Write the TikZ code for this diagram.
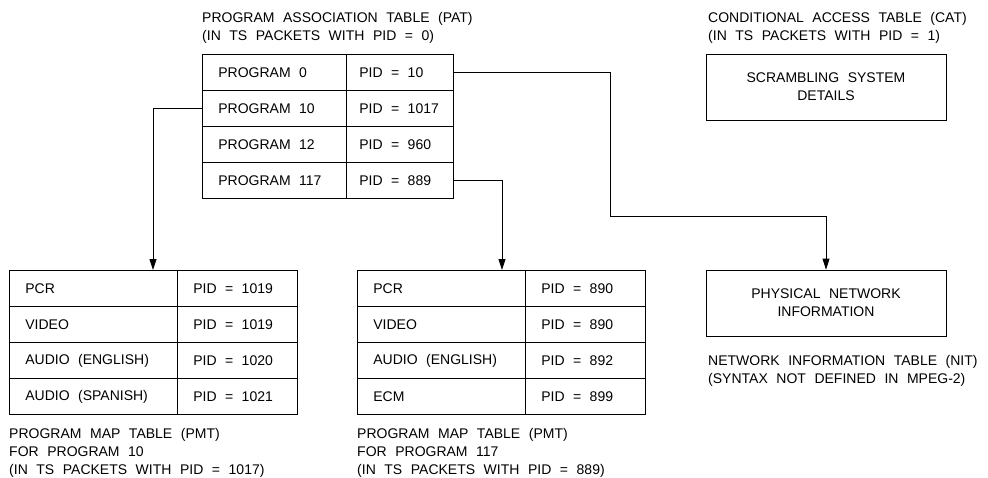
\documentclass[tikz,border=0pt]{standalone}
\usepackage{fontspec}
\setmainfont{Liberation Sans}[WordSpace=2.2]
\usetikzlibrary{arrows.meta}

\begin{document}
\begin{tikzpicture}[
  x=1pt, y=-1pt,
  font=\fontsize{14}{18}\selectfont,
  cell/.style={draw, line width=0.8pt, anchor=north west, minimum height=36pt,
               inner xsep=16pt, inner ysep=0pt, align=left, text width=#1,
               execute at begin node={\spaceskip=0.6em\relax}},
  pidcell/.style={cell=81pt, inner xsep=13pt},
  box/.style={draw, line width=0.8pt, minimum width=240pt, minimum height=66pt, align=center},
  capt/.style={anchor=base west, align=left, inner sep=0pt},
  arr/.style={line width=0.8pt, -{Triangle[length=11pt, width=7pt]}},
]
\useasboundingbox (0,0) rectangle (988,477);

% PAT
\node[capt] (pattitle) at (202,40) {PROGRAM ASSOCIATION TABLE (PAT)\\(IN TS PACKETS WITH PID = 0)};
\node[cell=112pt] (pat0l) at (202,54)  {PROGRAM 0};
\node[pidcell]    (pat0r) at (346,54)  {PID = 10};
\node[cell=112pt] (pat1l) at (202,90)  {PROGRAM 10};
\node[pidcell]    (pat1r) at (346,90)  {PID = 1017};
\node[cell=112pt] (pat2l) at (202,126) {PROGRAM 12};
\node[pidcell]    (pat2r) at (346,126) {PID = 960};
\node[cell=112pt] (pat3l) at (202,162) {PROGRAM 117};
\node[pidcell]    (pat3r) at (346,162) {PID = 889};

% CAT
\node[capt] (cattitle) at (708,40) {CONDITIONAL ACCESS TABLE (CAT)\\(IN TS PACKETS WITH PID = 1)};
\node[box] (cat) at (826,87) {SCRAMBLING SYSTEM\\DETAILS};

% PMT for program 10
\node[cell=136pt] (pa0l) at (9,270) {PCR};
\node[cell=88pt]  (pa0r) at (177,270) {PID = 1019};
\node[cell=136pt] (pa1l) at (9,306) {VIDEO};
\node[cell=88pt]  (pa1r) at (177,306) {PID = 1019};
\node[cell=136pt] (pa2l) at (9,342) {AUDIO (ENGLISH)};
\node[cell=88pt]  (pa2r) at (177,342) {PID = 1020};
\node[cell=136pt] (pa3l) at (9,378) {AUDIO (SPANISH)};
\node[cell=88pt]  (pa3r) at (177,378) {PID = 1021};
\node[capt] (pacapt) at (9,474) {PROGRAM MAP TABLE (PMT)\\FOR PROGRAM 10\\(IN TS PACKETS WITH PID = 1017)};

% PMT for program 117
\node[cell=136pt] (pb0l) at (357,270) {PCR};
\node[cell=88pt]  (pb0r) at (525,270) {PID = 890};
\node[cell=136pt] (pb1l) at (357,306) {VIDEO};
\node[cell=88pt]  (pb1r) at (525,306) {PID = 890};
\node[cell=136pt] (pb2l) at (357,342) {AUDIO (ENGLISH)};
\node[cell=88pt]  (pb2r) at (525,342) {PID = 892};
\node[cell=136pt] (pb3l) at (357,378) {ECM};
\node[cell=88pt]  (pb3r) at (525,378) {PID = 899};
\node[capt] (pbcapt) at (357,474) {PROGRAM MAP TABLE (PMT)\\FOR PROGRAM 117\\(IN TS PACKETS WITH PID = 889)};

% NIT
\node[box] (nit) at (826,303) {PHYSICAL NETWORK\\INFORMATION};
\node[capt] (nitcapt) at (708,383) {NETWORK INFORMATION TABLE (NIT)\\(SYNTAX NOT DEFINED IN MPEG-2)};

% connectors
\coordinate (bend) at (610,216);
\coordinate (in1) at (153,270);
\coordinate (in2) at (502,270);
\draw[arr] (pat0r.east) -| (bend) -| (nit.north);
\draw[arr] (pat1l.west) -| (in1);
\draw[arr] (pat3r.east) -| (in2);
\end{tikzpicture}
\end{document}
